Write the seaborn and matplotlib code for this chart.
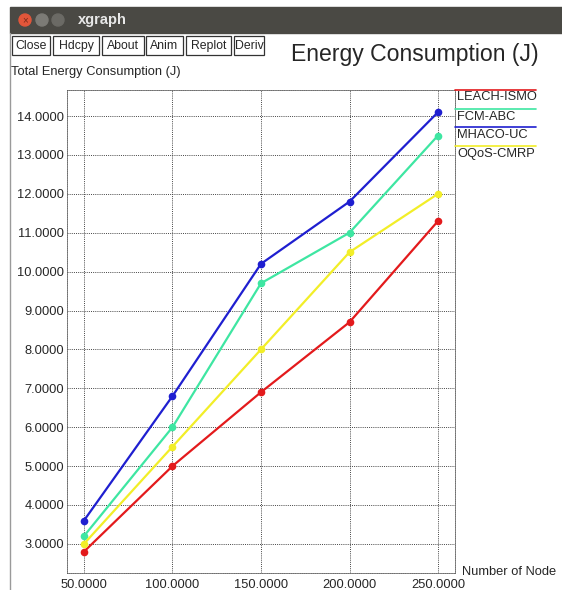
import numpy as np
import pandas as pd
import matplotlib
matplotlib.use("Agg")
import matplotlib.pyplot as plt
import seaborn as sns
from matplotlib.transforms import Affine2D
from matplotlib.patches import Rectangle, Circle

# data
nodes = [50, 100, 150, 200, 250]
leach_ismo = [2.8, 5.0, 6.9, 8.7, 11.3]
fcm_abc = [3.2, 6.0, 9.7, 11.0, 13.5]
mhaco_uc = [3.6, 6.8, 10.2, 11.8, 14.1]
oqos_cmrp = [3.0, 5.5, 8.0, 10.5, 12.0]

series_names = ["LEACH-ISMO", "FCM-ABC", "MHACO-UC", "OQoS-CMRP"]
series_vals = [leach_ismo, fcm_abc, mhaco_uc, oqos_cmrp]
colors = ["#e31a1c", "#3ee6a2", "#1f1fd0", "#f2ee28"]

buttons = ["Close", "Hdcpy", "About", "Anim", "Replot", "Deriv"]

sns.set_style("white")
plt.rcParams["font.family"] = ["Liberation Sans", "DejaVu Sans"]

W, H = 562, 590
fig = plt.figure(figsize=(W / 100, H / 100), dpi=100)
# pixel coordinates, origin top-left
px = Affine2D().scale(1 / W, -1 / H).translate(0, 1) + fig.transFigure

# window chrome
fig.patches.append(Rectangle((10, 7), 560, 26, transform=px, color="#4a4944", zorder=0))
fig.patches.append(Circle((25, 20), 6, transform=px, color="#e2563a", zorder=1))
fig.text(25, 20.5, "×", transform=px, color="#7a2a1a", fontsize=7, ha="center", va="center")
fig.patches.append(Circle((42, 20), 6, transform=px, color="#7c7b76", zorder=1))
fig.patches.append(Circle((58, 20), 6, transform=px, color="#6b6a65", zorder=1))
fig.text(78, 20, "xgraph", transform=px, color="#e8e8e8", fontsize=10.5,
         fontweight="bold", va="center", ha="left")
fig.add_artist(plt.Line2D([10, 10], [33, 590], transform=px, color="#9a9a9a", lw=1))

# xgraph buttons
bx = [12, 53, 102, 146, 186, 234]
bw = [38, 46, 42, 37, 45, 30]
for b, x0, w in zip(buttons, bx, bw):
    fig.patches.append(Rectangle((x0, 36), w, 19, transform=px, facecolor="white",
                                 edgecolor="#333333", lw=0.9))
    fig.text(x0 + w / 2, 46, b, transform=px, fontsize=8.8, ha="center", va="center")

fig.text(291, 54, "Energy Consumption (J)", transform=px, fontsize=16.6,
         ha="left", va="center")
fig.text(11, 72, "Total Energy Consumption (J)", transform=px, fontsize=9.3,
         ha="left", va="center")
fig.text(462, 572, "Number of Node", transform=px, fontsize=9.3,
         ha="left", va="center")

# plot area
ax = fig.add_axes([67 / W, 1 - 573 / H, (455 - 67) / W, (573 - 90) / H])
for name, vals, c in zip(series_names, series_vals, colors):
    df = pd.DataFrame({"nodes": nodes, "energy": vals})
    sns.lineplot(data=df, x="nodes", y="energy", color=c, lw=1.6, marker="o",
                 markersize=5.5, markeredgewidth=0, ax=ax, zorder=3)

ax.set_xlim(40.4, 259.6)
ax.set_ylim(2.25, 14.67)
ax.set_xticks(nodes)
ax.set_yticks(np.arange(3, 15, 1))
ax.xaxis.set_major_formatter(matplotlib.ticker.FormatStrFormatter("%.4f"))
ax.yaxis.set_major_formatter(matplotlib.ticker.FormatStrFormatter("%.4f"))
ax.tick_params(length=0, labelsize=9.3, pad=2)
ax.tick_params(axis="x", pad=4)
ax.grid(True, ls=(0, (1, 1.2)), color="#444444", lw=0.7)
for s in ax.spines.values():
    s.set_linestyle((0, (1, 1.2)))
    s.set_color("#555555")
    s.set_linewidth(0.6)
ax.set_xlabel("")
ax.set_ylabel("")

# xgraph style legend: coloured line over each name
ly = [90, 109, 127, 146]
for name, c, y in zip(series_names, colors, ly):
    fig.add_artist(plt.Line2D([455, 536], [y, y], transform=px, color=c, lw=1.2))
    fig.text(457, y + 7.5, name, transform=px, fontsize=9.3, ha="left", va="center")

fig.savefig("out.png", dpi=100)
